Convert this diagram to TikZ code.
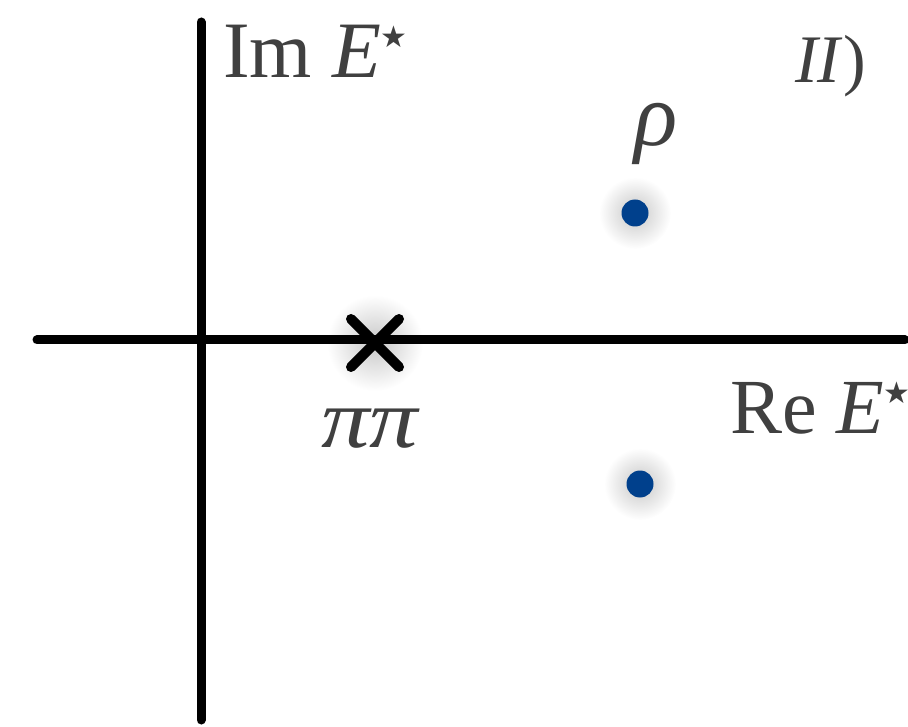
\documentclass[tikz,border=0pt]{standalone}
\usepackage{fontspec}
\setmainfont{Liberation Serif}
\newfontfamily\symfont{DejaVu Sans}
\definecolor{txt}{RGB}{64,64,64}
\definecolor{pole}{RGB}{0,64,140}
\newcommand{\mystar}[1]{\raisebox{#1}{\symfont\fontsize{30}{30}\selectfont ★}}
\tikzset{
  axis/.style={line width=9pt, line cap=round, black},
  lbl/.style={inner sep=0pt, anchor=base west, text=txt},
  cross/.style={line width=10pt, line cap=round, black},
  polept/.style={circle, fill=pole, inner sep=0pt, minimum size=27pt},
  glow/.style={inner color=black!22, outer color=white}
}
\begin{document}
\begin{tikzpicture}[x=1pt,y=-1pt]
\useasboundingbox (0,0) rectangle (908,727);
% glows
\shade[glow] (375,343) circle (48);
\shade[glow] (635,213) circle (36);
\shade[glow] (640,484) circle (36);
% axes
\coordinate (vtop) at (201,22);
\coordinate (vbot) at (201,720);
\coordinate (hl) at (37,340);
\coordinate (hr) at (905,340);
\draw[axis] (vtop) -- (vbot);
\draw[axis] (hl) -- (hr);
% threshold cross
\coordinate (pp) at (375,343);
\draw[cross] ([shift={(-24,-24)}]pp) -- ([shift={(24,24)}]pp);
\draw[cross] ([shift={(-24,24)}]pp) -- ([shift={(24,-24)}]pp);
% poles
\node[polept] (rhoup) at (635,213) {};
\node[polept] (rhodn) at (640,484) {};
% labels
\node[lbl, font=\fontsize{80}{90}\selectfont] (im) at (223,78) {Im \textit{E}\mystar{30pt}};
\node[lbl, font=\fontsize{78}{88}\selectfont] (re) at (730,433) {Re \textit{E}\mystar{30pt}};
\node[lbl, font=\fontsize{84}{95}\selectfont] (pipi) at (321,447) {\scalebox{1.15}[1]{\textit{ππ}}};
\node[lbl, font=\fontsize{90}{100}\selectfont] (rho) at (634,146) {\textit{ρ}};
\node[lbl, font=\fontsize{68}{80}\selectfont] (two) at (795,83) {\textit{II})};
\end{tikzpicture}
\end{document}
